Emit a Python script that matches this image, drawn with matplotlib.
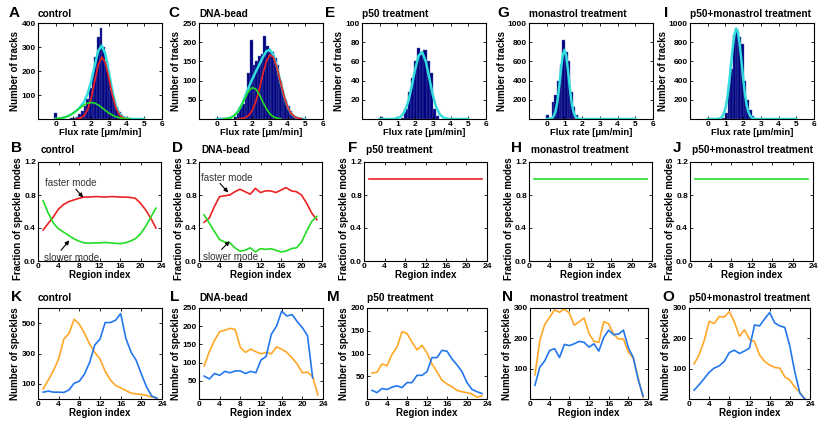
import numpy as np
import matplotlib.pyplot as plt

plt.rcParams['font.family'] = ['Liberation Sans', 'DejaVu Sans']
plt.rcParams['font.weight'] = 'bold'
plt.rcParams['axes.labelweight'] = 'bold'

RED = '#ee2222'
GREEN = '#22dd22'
CYAN = '#33dddd'
ORANGE = '#ffa726'
BLUE = '#2277ee'
NAVY = '#000080'

# ---------------- row 1: flux rate histograms ----------------
flux_x = [0.0, 0.2, 0.4, 0.6, 0.8, 1.0, 1.2, 1.4, 1.6, 1.8, 2.0, 2.2, 2.4,
          2.6, 2.8, 3.0, 3.2, 3.4, 3.6, 3.8, 4.0, 4.2, 4.4, 4.6, 4.8, 5.0]

ctrl_bins = [0.0, 0.9, 1.05, 1.2, 1.35, 1.5, 1.65, 1.8, 1.95, 2.1, 2.25, 2.4, 2.55,
             2.7, 2.85, 3.0, 3.15, 3.3, 3.45, 3.6, 3.75, 3.9, 4.05, 4.2]
ctrl_counts = [25, 3, 5, 10, 20, 35, 55, 85, 130, 190, 260, 340, 380,
               300, 240, 175, 120, 80, 50, 30, 15, 8, 4, 2]
ctrl_slow = [1.2, 2.5, 5.1, 9.3, 15.9, 24.9, 35.9, 47.8, 58.6, 66.2, 69, 66.2, 58.6,
             47.8, 35.9, 24.9, 15.9, 9.3, 5.1, 2.5, 1.2, 0.5, 0.2, 0, 0, 0]
ctrl_fast = [0, 0, 0, 0, 0, 0.2, 0.9, 3.8, 13.5, 38.5, 86.7, 156.6, 225,
             257.7, 235, 171, 99.5, 45.7, 17, 5, 1.2, 0.2, 0, 0, 0, 0]
ctrl_fit = [1.2, 2.5, 5.1, 9.3, 15.9, 25, 36.8, 51.6, 72, 105, 156, 223, 284,
            306, 271, 196, 115, 55, 22, 7.5, 2.4, 0.7, 0.2, 0, 0, 0]

bead_bins = [0.15, 1.05, 1.2, 1.35, 1.5, 1.65, 1.8, 1.95, 2.1, 2.25, 2.4, 2.55, 2.7,
             2.85, 3.0, 3.15, 3.3, 3.45, 3.6, 3.75, 3.9, 4.05, 4.2, 4.35, 4.5]
bead_counts = [2, 5, 15, 30, 40, 65, 120, 205, 140, 150, 165, 170, 215,
               190, 175, 175, 160, 140, 100, 75, 50, 35, 20, 8, 3]
bead_slow = [0, 0, 0.35, 1.2, 3.6, 9.1, 19.3, 35.2, 54.7, 72.4, 81.6, 78.4, 64.2,
             44.8, 26.6, 13.5, 5.8, 2.1, 0.7, 0.2, 0, 0, 0, 0, 0, 0]
bead_fast = [0, 0, 0, 0, 0, 0.07, 0.3, 1.1, 3.4, 9.3, 21.8, 44.4, 76.9,
             115.6, 149.7, 167.2, 161.1, 133.9, 96, 59.5, 31.6, 14.6, 5.8, 2, 0.6, 0.15]
bead_fit = [0, 0, 0.35, 1.2, 3.6, 9.2, 19.6, 36.3, 58.1, 81.7, 103.4, 122.8, 141.1,
            160.4, 176.3, 180.7, 166.9, 136, 96.7, 59.7, 31.6, 14.6, 5.8, 2, 0.6, 0.15]

p50_bins = [0.1, 1.3, 1.48, 1.66, 1.84, 2.02, 2.2, 2.38, 2.56, 2.74, 2.92, 3.1, 3.28]
p50_counts = [2, 1, 10, 28, 43, 60, 74, 67, 72, 60, 48, 10, 3]
p50_fit = [0, 0, 0, 0, 0.2, 0.8, 2.7, 7.5, 17.4, 33.2, 51.7, 66.2, 69.6,
           60, 42.5, 24.8, 11.7, 4.6, 1.5, 0.4, 0.1, 0, 0, 0, 0, 0]

mona_bins = [0.05, 0.35, 0.5, 0.65, 0.8, 0.95, 1.1, 1.25, 1.4, 1.55, 1.7]
mona_counts = [40, 180, 250, 400, 560, 820, 700, 600, 280, 130, 40]
mona_x = [0.0, 0.1, 0.2, 0.3, 0.4, 0.5, 0.6, 0.7, 0.8, 0.9, 1.0, 1.1, 1.2, 1.3,
          1.4, 1.5, 1.6, 1.7, 1.8, 1.9, 2.0, 2.5, 3.0, 3.5, 4.0, 4.5, 5.0]
mona_fit = [0.1, 0.6, 2.8, 10.3, 31.5, 82, 179, 330, 509, 660, 720, 660, 509, 330,
            179, 82, 31.5, 10.3, 2.8, 0.6, 0.1, 0, 0, 0, 0, 0, 0]

pm_bins = [0.9, 1.05, 1.2, 1.35, 1.5, 1.65, 1.8, 1.95, 2.1, 2.25, 2.4, 2.55, 2.7]
pm_counts = [15, 60, 380, 520, 880, 930, 850, 780, 400, 200, 90, 30, 5]
pm_x = [0.0, 0.5, 0.6, 0.7, 0.8, 0.9, 1.0, 1.1, 1.2, 1.3, 1.4, 1.5, 1.6, 1.7, 1.8,
        1.9, 2.0, 2.1, 2.2, 2.3, 2.4, 2.5, 2.6, 2.7, 2.8, 3.0, 3.5, 4.0, 4.5, 5.0]
pm_fit = [0, 0.9, 2.9, 8.5, 22.6, 53, 111, 211, 355, 534, 724, 872, 943, 912, 789,
          611, 424, 262, 146, 72, 32, 12.8, 4.6, 1.4, 0.4, 0, 0, 0, 0, 0]

# ---------------- row 2: fraction of speckle modes ----------------
region = list(range(1, 24))

ctrl_frac_fast = [0.375, 0.456, 0.536, 0.63, 0.685, 0.72, 0.74, 0.76, 0.775, 0.775, 0.78,
                  0.78, 0.775, 0.78, 0.78, 0.775, 0.775, 0.77, 0.76, 0.70, 0.62, 0.52, 0.40]
ctrl_frac_slow = [0.73, 0.58, 0.46, 0.39, 0.35, 0.31, 0.27, 0.24, 0.22, 0.215, 0.22,
                  0.22, 0.225, 0.22, 0.215, 0.21, 0.22, 0.24, 0.27, 0.33, 0.42, 0.53, 0.64]
bead_frac_fast = [0.47, 0.52, 0.66, 0.78, 0.79, 0.80, 0.84, 0.87, 0.84, 0.81, 0.88,
                  0.83, 0.85, 0.85, 0.83, 0.86, 0.89, 0.85, 0.84, 0.80, 0.70, 0.58, 0.50]
bead_frac_slow = [0.56, 0.46, 0.36, 0.26, 0.23, 0.22, 0.16, 0.12, 0.13, 0.16, 0.11,
                  0.15, 0.14, 0.15, 0.13, 0.11, 0.12, 0.15, 0.16, 0.23, 0.36, 0.48, 0.54]
single_frac = [1.0] * 23

# ---------------- row 3: number of speckles ----------------
ctrl_orange = [67, 126, 188, 264, 395, 432, 526, 493, 432, 362, 307, 264,
               183, 126, 89, 74, 56, 39, 34, 30, 24, 13, 6]
ctrl_blue = [45, 52, 45, 45, 43, 60, 104, 117, 165, 242, 357, 395,
             504, 504, 519, 563, 400, 310, 255, 165, 80, 20, 5]
bead_orange = [91, 130, 161, 185, 189, 194, 191, 142, 128, 137, 130, 124,
               128, 124, 143, 137, 128, 113, 96, 72, 74, 61, 11]
bead_blue = [63, 55, 70, 65, 76, 72, 77, 77, 70, 76, 72, 107,
             117, 178, 200, 241, 228, 232, 213, 196, 174, 58]
p50_orange = [57, 59, 77, 73, 98, 114, 148, 144, 125, 108, 118, 101,
              77, 60, 41, 33, 27, 19, 16, 14, 11, 4, 7]
p50_blue = [19, 14, 23, 21, 26, 29, 25, 36, 36, 52, 52, 60,
            91, 91, 107, 105, 88, 75, 60, 36, 21, 16, 12]
mona_orange = [80, 193, 246, 270, 294, 286, 297, 283, 243, 255, 267, 216,
               190, 187, 255, 248, 214, 198, 198, 155, 134, 70, 5]
mona_blue = [45, 105, 126, 160, 166, 137, 180, 176, 182, 190, 187, 171,
             182, 158, 203, 227, 212, 214, 227, 169, 137, 64, 9]
pm_orange = [116, 145, 192, 256, 249, 272, 270, 288, 254, 207, 228, 197,
             189, 145, 124, 112, 104, 102, 73, 62, 39, 21, 0]
pm_blue = [29, 47, 67, 88, 102, 109, 124, 153, 161, 150, 158, 168,
           244, 241, 264, 285, 251, 241, 236, 174, 88, 19, 0]

titles = ['control', 'DNA-bead', 'p50 treatment', 'monastrol treatment',
          'p50+monastrol treatment']

fig = plt.figure(figsize=(8.18, 4.22), dpi=100)


def add_ax(left, top, width, height):
    return fig.add_axes([left / 818, 1 - (top + height) / 422, width / 818, height / 422])


def style(ax):
    ax.tick_params(direction='in', top=True, right=True, length=2, width=0.6,
                   labelsize=6, pad=1.5)
    for s in ax.spines.values():
        s.set_linewidth(0.8)


def letter(x, y, s):
    fig.text(x / 818, 1 - y / 422, s, fontsize=11, fontweight='bold', va='center', ha='left')


def curve(ax, x, y, color, lw):
    y = np.array(y, dtype=float)
    y[y < 0.3] = np.nan
    ax.plot(x, y, color=color, lw=lw)


def mode_label(ax, text, pos, tail, head):
    ax.text(pos[0], pos[1], text, fontsize=7, fontweight='normal', color='#333333',
            ha='center', va='center')
    ax.annotate('', xy=head, xytext=tail,
                arrowprops=dict(arrowstyle='-|>', color='k', lw=0.8, mutation_scale=6,
                                shrinkA=0, shrinkB=0))


# row 1
row1_left = [38, 199, 362, 529, 690]
row1_letters = [('A', 9), ('C', 168), ('E', 325), ('G', 497), ('I', 664)]
hist_data = [(ctrl_bins, ctrl_counts, 0.15), (bead_bins, bead_counts, 0.15),
             (p50_bins, p50_counts, 0.18), (mona_bins, mona_counts, 0.15),
             (pm_bins, pm_counts, 0.15)]
ylims1 = [400, 250, 100, 1000, 1000]
yticks1 = [[100, 200, 300, 400], [50, 100, 150, 200, 250], [20, 40, 60, 80, 100],
           [200, 400, 600, 800, 1000], [200, 400, 600, 800, 1000]]

for i in range(5):
    ax = add_ax(row1_left[i], 23, 124, 96)
    bins, counts, w = hist_data[i]
    ax.bar(bins, counts, width=w, color=NAVY, edgecolor='#5566aa', linewidth=0.3)
    if i == 0:
        ax.plot(flux_x, ctrl_fit, color=CYAN, lw=1.8)
        curve(ax, flux_x, ctrl_fast, RED, 1.2)
        curve(ax, flux_x, ctrl_slow, GREEN, 1.2)
    elif i == 1:
        ax.plot(flux_x, bead_fit, color=CYAN, lw=1.8)
        curve(ax, flux_x, bead_fast, RED, 1.2)
        curve(ax, flux_x, bead_slow, GREEN, 1.2)
    elif i == 2:
        ax.plot(flux_x, p50_fit, color=CYAN, lw=1.8)
    elif i == 3:
        ax.plot(mona_x, mona_fit, color=CYAN, lw=1.8)
    else:
        ax.plot(pm_x, pm_fit, color=CYAN, lw=1.8)
    ax.set_xlim(-1, 6)
    ax.set_ylim(0, ylims1[i])
    ax.set_xticks([0, 1, 2, 3, 4, 5, 6])
    ax.set_yticks(yticks1[i])
    style(ax)
    ax.set_xlabel('Flux rate [\u03bcm/min]', fontsize=6.8, labelpad=0)
    ax.set_ylabel('Number of tracks', fontsize=7, labelpad=1)
    ax.text(0, 1.094, titles[i], transform=ax.transAxes, fontsize=7.3,
            fontweight='bold', va='center', ha='left')
    letter(row1_letters[i][1], 13, row1_letters[i][0])

# row 2
row2_left = [38, 199, 364, 529, 690]
row2_letters = [('B', 11), ('D', 172), ('F', 348), ('H', 511), ('J', 673)]
frac_data = [(ctrl_frac_fast, ctrl_frac_slow), (bead_frac_fast, bead_frac_slow),
             (single_frac, None), (None, single_frac), (None, single_frac)]

for i in range(5):
    ax = add_ax(row2_left[i], 162, 123, 99)
    fast, slow = frac_data[i]
    if fast is not None:
        ax.plot(region, fast, color=RED, lw=1.2)
    if slow is not None:
        ax.plot(region, slow, color=GREEN, lw=1.2)
    ax.set_xlim(0, 24)
    ax.set_ylim(0, 1.2)
    ax.set_xticks([0, 4, 8, 12, 16, 20, 24])
    ax.set_yticks([0.0, 0.4, 0.8, 1.2])
    ax.set_yticklabels(['0.0', '0.4', '0.8', '1.2'])
    style(ax)
    ax.set_xlabel('Region index', fontsize=7, labelpad=0)
    ax.set_ylabel('Fraction of speckle modes', fontsize=7, labelpad=1, y=0.43)
    ax.text(0.02, 1.12, titles[i], transform=ax.transAxes, fontsize=7.3,
            fontweight='bold', va='center', ha='left')
    letter(row2_letters[i][1], 148, row2_letters[i][0])
    if i == 0:
        mode_label(ax, 'faster mode', (6.3, 0.94), (7.4, 0.87), (8.8, 0.77))
        mode_label(ax, 'slower mode', (6.5, 0.04), (4.5, 0.13), (6.1, 0.25))
    elif i == 1:
        mode_label(ax, 'faster mode', (5.4, 1.01), (4.1, 0.94), (5.7, 0.83))
        mode_label(ax, 'slower mode', (6.2, 0.05), (4.4, 0.14), (6.0, 0.24))

# row 3
row3_left = [38, 199, 367, 530, 689]
row3_width = [124, 124, 120, 118, 121]
row3_letters = [('K', 11), ('L', 170), ('M', 327), ('N', 502), ('O', 662)]
count_data = [(ctrl_orange, ctrl_blue), (bead_orange, bead_blue), (p50_orange, p50_blue),
              (mona_orange, mona_blue), (pm_orange, pm_blue)]
ylims3 = [600, 250, 200, 300, 300]
yticks3 = [[100, 300, 500], [50, 100, 150, 200, 250], [50, 100, 150, 200],
           [100, 200, 300], [100, 200, 300]]

for i in range(5):
    ax = add_ax(row3_left[i], 308, row3_width[i], 91)
    orange, blue = count_data[i]
    ax.plot(region[:len(orange)], orange, color=ORANGE, lw=1.2)
    ax.plot(region[:len(blue)], blue, color=BLUE, lw=1.2)
    ax.set_xlim(0, 24)
    ax.set_ylim(0, ylims3[i])
    ax.set_xticks([0, 4, 8, 12, 16, 20, 24])
    ax.set_yticks(yticks3[i])
    style(ax)
    ax.set_xlabel('Region index', fontsize=7, labelpad=0)
    ax.set_ylabel('Number of speckles', fontsize=7, labelpad=1)
    ax.text(0, 1.11, titles[i], transform=ax.transAxes, fontsize=7.3,
            fontweight='bold', va='center', ha='left')
    letter(row3_letters[i][1], 297, row3_letters[i][0])

fig.savefig('out.png', dpi=100)
